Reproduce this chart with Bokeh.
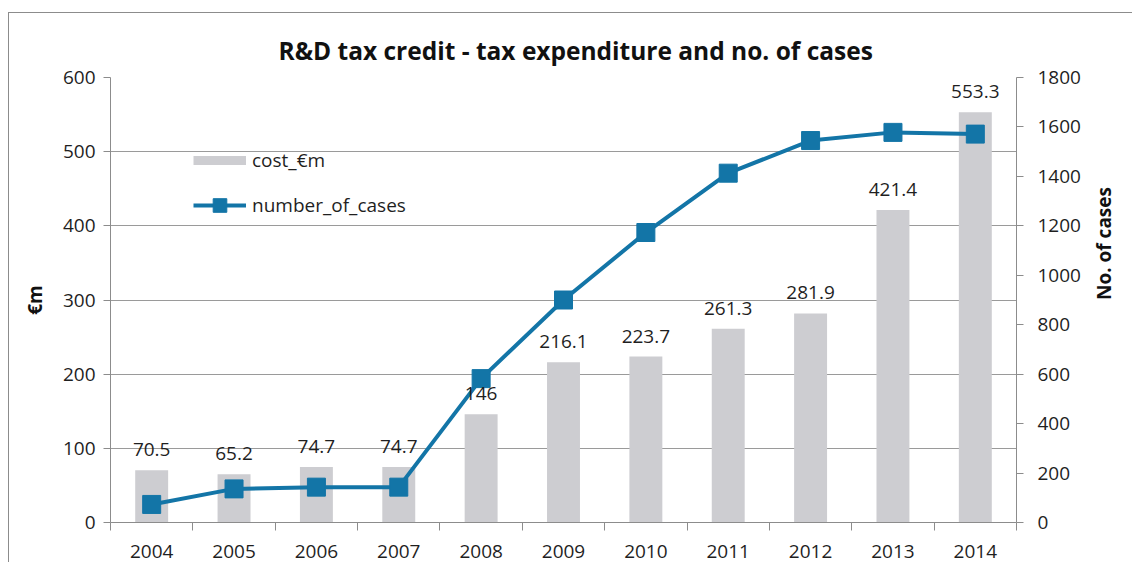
import math
from bokeh.plotting import figure
from bokeh.models import (Range1d, LinearAxis, FixedTicker, ColumnDataSource, LabelSet,
                          Legend, LegendItem, InlineStyleSheet)
from bokeh.core.properties import value
from bokeh.embed import file_html
from bokeh.resources import INLINE

years = [2004, 2005, 2006, 2007, 2008, 2009, 2010, 2011, 2012, 2013, 2014]
cost_m = [70.5, 65.2, 74.7, 74.7, 146, 216.1, 223.7, 261.3, 281.9, 421.4, 553.3]
cost_labels = ["70.5", "65.2", "74.7", "74.7", "146", "216.1", "223.7", "261.3", "281.9", "421.4", "553.3"]
number_of_cases = [73, 136, 143, 143, 582, 900, 1173, 1413, 1545, 1578, 1571]
left_ticks = [0, 100, 200, 300, 400, 500, 600]
right_ticks = [0, 200, 400, 600, 800, 1000, 1200, 1400, 1600, 1800]

FONT = "Open Sans"
TXT = "#1f1f1f"
AX = "#8c8c8c"
BAR = "#cdcdd1"
LINE = "#1375a7"

src = ColumnDataSource(dict(year=years, cost=cost_m, lab=cost_labels, cases=number_of_cases))

border_css = InlineStyleSheet(css=""":host::after{content:'';position:absolute;left:8px;top:12px;right:0;bottom:0;
border-left:1px solid #8c8c8c;border-top:1px solid #8c8c8c;pointer-events:none;}""")

p = figure(width=1132, height=562, output_backend="svg", toolbar_location=None,
           x_range=Range1d(years[0] - 0.5, years[-1] + 0.5), y_range=Range1d(0, 600),
           min_border_left=110, min_border_right=112, min_border_top=77, min_border_bottom=40,
           title="R&D tax credit - tax expenditure and no. of cases",
           stylesheets=[border_css])
p.extra_y_ranges = {"cases": Range1d(0, 1800)}
p.outline_line_color = None
p.background_fill_color = "white"
p.border_fill_color = "white"

p.title.text_font = FONT
p.title.text_font_size = "24.5px"
p.title.text_font_style = "bold"
p.title.align = "left"
p.title.offset = 168
p.title.standoff = 22
p.title.text_color = "#111111"

# grids
p.xgrid.grid_line_color = None
p.ygrid.ticker = FixedTicker(ticks=left_ticks)
p.ygrid.grid_line_color = "#9a9a9a"
p.ygrid.grid_line_width = 1.2

# x axis
xa = p.xaxis[0]
xa.ticker = FixedTicker(ticks=years, minor_ticks=[y - 0.5 for y in years] + [years[-1] + 0.5])
xa.major_tick_out = 0
xa.major_tick_in = 0
xa.minor_tick_out = 8
xa.minor_tick_in = 0
xa.minor_tick_line_color = AX
xa.axis_line_color = AX
xa.major_label_standoff = 14
xa.major_label_text_font = FONT
xa.major_label_text_font_size = "19px"
xa.major_label_text_color = TXT

# left axis
ya = p.yaxis[0]
ya.ticker = FixedTicker(ticks=left_ticks)
ya.major_tick_out = 7
ya.major_tick_in = 0
ya.minor_tick_line_color = None
ya.axis_line_color = AX
ya.major_tick_line_color = AX
ya.major_label_standoff = 8
ya.major_label_text_font = FONT
ya.major_label_text_font_size = "19px"
ya.major_label_text_color = TXT
ya.axis_label = "€m"
ya.axis_label_text_font = FONT
ya.axis_label_text_font_size = "19px"
ya.axis_label_text_font_style = "bold"
ya.axis_label_text_color = "#111111"
ya.axis_label_standoff = 12

# right axis
ra = LinearAxis(y_range_name="cases", ticker=FixedTicker(ticks=right_ticks))
ra.major_tick_out = 7
ra.major_tick_in = 0
ra.minor_tick_line_color = None
ra.axis_line_color = AX
ra.major_tick_line_color = AX
ra.major_label_standoff = 14
ra.major_label_text_font = FONT
ra.major_label_text_font_size = "19px"
ra.major_label_text_color = TXT
ra.axis_label = "No. of cases"
ra.axis_label_text_font = FONT
ra.axis_label_text_font_size = "19px"
ra.axis_label_text_font_style = "bold"
ra.axis_label_text_color = "#111111"
ra.axis_label_standoff = 20
ra.axis_label_orientation = math.pi / 2
p.add_layout(ra, "right")

# bars
bars = p.vbar(x="year", top="cost", width=0.4, source=src, fill_color=BAR, line_color=None)
labels = LabelSet(x="year", y="cost", text="lab", source=src, y_offset=14,
                  text_align="center", text_baseline="alphabetic",
                  text_font=value(FONT), text_font_size="19px", text_color=TXT)
p.add_layout(labels)

# line
ln = p.line(x="year", y="cases", source=src, y_range_name="cases", line_color=LINE, line_width=4)
mk = p.scatter(x="year", y="cases", source=src, y_range_name="cases", marker="square", size=18,
               fill_color=LINE, line_color=LINE)

# legend swatch for bars (thin rectangle like the original); a single point draws no line
sw = p.line(x=years[:1], y=cost_m[:1], line_color=BAR, line_width=9)

legend = Legend(items=[LegendItem(label="cost_€m", renderers=[sw]),
                       LegendItem(label="number_of_cases", renderers=[ln, mk])],
                location=(83, 300), glyph_width=53, glyph_height=34, spacing=11,
                padding=0, label_standoff=6, border_line_color=None,
                background_fill_alpha=0, label_text_font=FONT, label_text_font_size="19px",
                label_text_color=TXT, margin=0)
p.add_layout(legend)

open("out.html", "w").write(file_html(p, INLINE))
